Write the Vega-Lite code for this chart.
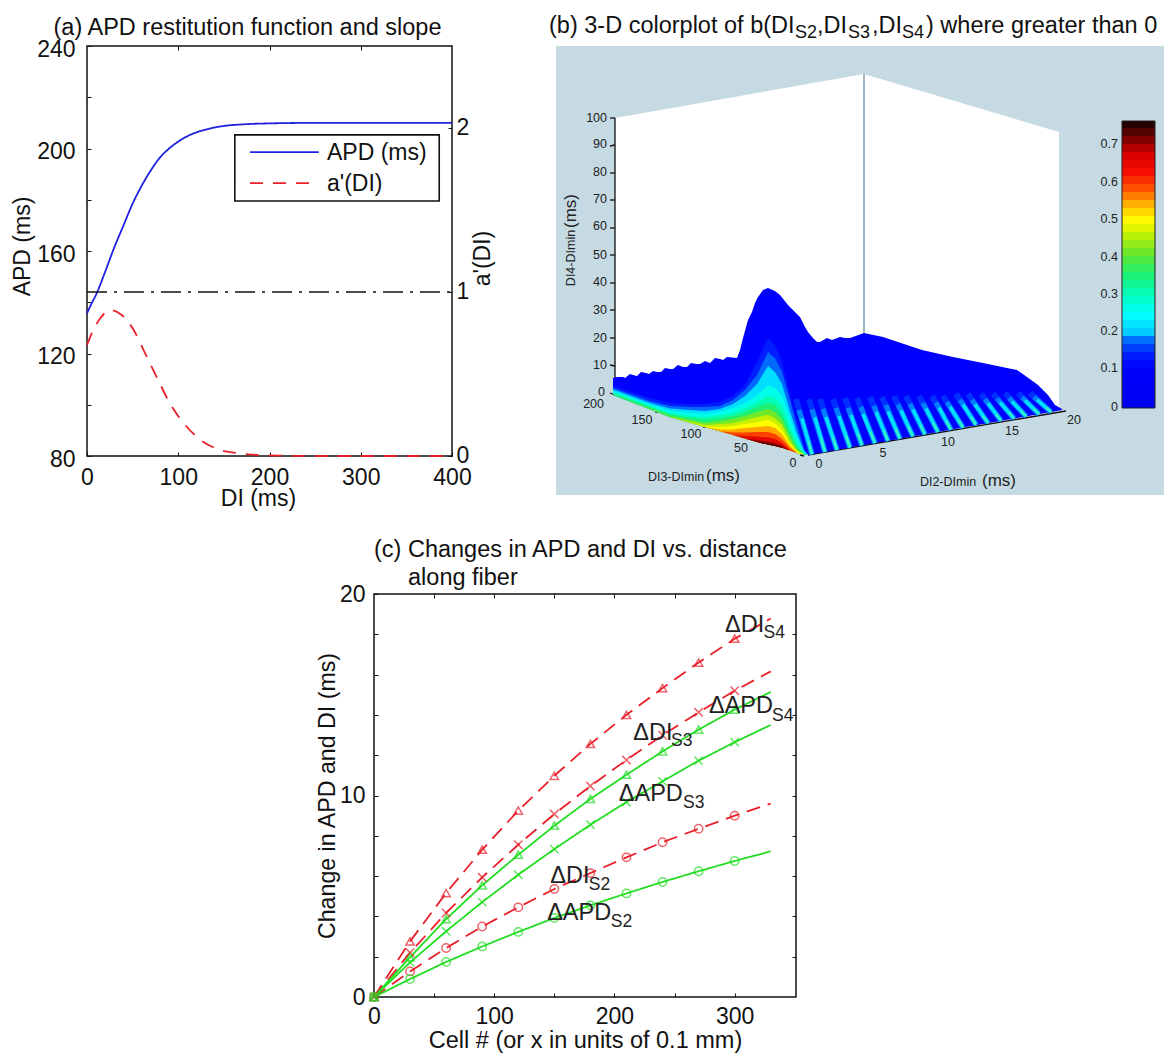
{
"$schema":"https://vega.github.io/schema/vega-lite/v6.json",
"padding":{"left":10,"top":14,"right":0,"bottom":0},
"background":"white",
"config":{"font":"Liberation Sans","axis":{"grid":false,"domain":false,"labelColor":"#111","titleColor":"#111","titleFontWeight":"normal","tickColor":"#111","labelFontSize":23,"titleFontSize":23,"labelOverlap":false,"labelBound":false,"labelFlush":false},"title":{"fontWeight":"normal","color":"#111","fontSize":23.5},"text":{"color":"#222"}},
"spacing":26,"bounds":"full",
"resolve":{"scale":{"color":"independent","strokeDash":"independent","shape":"independent"}},
"vconcat":[
{"hconcat":[
{"width":365,"height":410,"view":{"stroke":"#111","strokeWidth":1.5,"fill":"white"},
"title":{"text":"(a) APD restitution function and slope","anchor":"middle","frame":"group","dx":-22,"offset":-1},
"resolve":{"scale":{"y":"independent"},"axis":{"x":"independent","y":"independent"}},
"layer":[
{"data":{"values":[{"DI":0,"APD":135.7,"series":"APD (ms)"},{"DI":5,"APD":139.5,"series":"APD (ms)"},{"DI":10,"APD":143,"series":"APD (ms)"},{"DI":20,"APD":152,"series":"APD (ms)"},{"DI":30,"APD":161.5,"series":"APD (ms)"},{"DI":40,"APD":170,"series":"APD (ms)"},{"DI":50,"APD":178.5,"series":"APD (ms)"},{"DI":60,"APD":185.5,"series":"APD (ms)"},{"DI":70,"APD":191.5,"series":"APD (ms)"},{"DI":80,"APD":196.5,"series":"APD (ms)"},{"DI":90,"APD":200,"series":"APD (ms)"},{"DI":100,"APD":202.7,"series":"APD (ms)"},{"DI":110,"APD":204.8,"series":"APD (ms)"},{"DI":120,"APD":206.3,"series":"APD (ms)"},{"DI":130,"APD":207.4,"series":"APD (ms)"},{"DI":140,"APD":208.2,"series":"APD (ms)"},{"DI":150,"APD":208.8,"series":"APD (ms)"},{"DI":170,"APD":209.4,"series":"APD (ms)"},{"DI":200,"APD":209.8,"series":"APD (ms)"},{"DI":250,"APD":210,"series":"APD (ms)"},{"DI":300,"APD":210,"series":"APD (ms)"},{"DI":400,"APD":210,"series":"APD (ms)"}]},
"mark":{"type":"line","interpolate":"monotone","strokeWidth":1.8},
"encoding":{"x":{"field":"DI","type":"quantitative","scale":{"domain":[0,400]},"axis":{"orient":"bottom","values":[0,100,200,300,400],"title":"DI (ms)","tickSize":-4,"labelPadding":14,"titlePadding":-2,"titleX":171}},
"y":{"field":"APD","type":"quantitative","scale":{"domain":[80,240]},"axis":{"orient":"left","values":[80,100,120,140,160,180,200,220,240],"labelExpr":"datum.value%40==0?datum.label:''","title":"APD (ms)","tickSize":-4,"labelPadding":16,"titlePadding":2,"labelOffset":3,"titleY":200}},
"color":{"field":"series","type":"nominal","scale":{"domain":["APD (ms)","a'(DI)"],"range":["#2020e0","#e8202a"]},"legend":null},
"strokeDash":{"field":"series","type":"nominal","scale":{"domain":["APD (ms)","a'(DI)"],"range":[[1,0],[13,10]]},"legend":null}}},
{"data":{"values":[{"DI":0,"slope":0.677,"series":"a'(DI)"},{"DI":7,"slope":0.77,"series":"a'(DI)"},{"DI":14.6,"slope":0.84,"series":"a'(DI)"},{"DI":25.6,"slope":0.89,"series":"a'(DI)"},{"DI":38,"slope":0.86,"series":"a'(DI)"},{"DI":51,"slope":0.77,"series":"a'(DI)"},{"DI":62,"slope":0.646,"series":"a'(DI)"},{"DI":77,"slope":0.474,"series":"a'(DI)"},{"DI":91,"slope":0.32,"series":"a'(DI)"},{"DI":106,"slope":0.2,"series":"a'(DI)"},{"DI":124,"slope":0.1,"series":"a'(DI)"},{"DI":146,"slope":0.037,"series":"a'(DI)"},{"DI":168,"slope":0.016,"series":"a'(DI)"},{"DI":197,"slope":0.004,"series":"a'(DI)"},{"DI":250,"slope":0,"series":"a'(DI)"},{"DI":400,"slope":0,"series":"a'(DI)"}]},
"mark":{"type":"line","interpolate":"monotone","strokeWidth":1.8},
"encoding":{"x":{"field":"DI","type":"quantitative","scale":{"domain":[0,400]},"axis":null},
"y":{"field":"slope","type":"quantitative","scale":{"domain":[0,2.5]},"axis":{"orient":"right","values":[0,1,2],"title":"a'(DI)","titleAngle":270,"tickSize":-4,"labelPadding":8,"titlePadding":26,"titleY":212,"labelOffset":-1}},
"color":{"field":"series","type":"nominal","scale":{"domain":["APD (ms)","a'(DI)"],"range":["#2020e0","#e8202a"]},"legend":null},
"strokeDash":{"field":"series","type":"nominal","scale":{"domain":["APD (ms)","a'(DI)"],"range":[[1,0],[13,10]]},"legend":null}}},
{"data":{"values":[{"DI":0,"slope":1},{"DI":400,"slope":1}]},
"mark":{"type":"line","color":"#111","strokeWidth":1.3,"strokeDash":[20,7,3,7]},
"encoding":{"x":{"field":"DI","type":"quantitative","scale":{"domain":[0,400]},"axis":{"orient":"top","values":[100,200,300],"labels":false,"title":null,"tickSize":-4}},
"y":{"field":"slope","type":"quantitative","scale":{"domain":[0,2.5]},"axis":null}}},
{"data":{"values":[{"DI":162,"DI2":386,"APD":205.3,"APD2":179.5}]},
"mark":{"type":"rect","fill":"white","stroke":"#111","strokeWidth":1.6},
"encoding":{"x":{"field":"DI","type":"quantitative","scale":{"domain":[0,400]},"axis":null},"x2":{"field":"DI2"},"y":{"field":"APD","type":"quantitative","scale":{"domain":[80,240]},"axis":null},"y2":{"field":"APD2"}}},
{"data":{"values":[{"DI":178.6,"APD":198.6,"series":"APD (ms)"},{"DI":254,"APD":198.6,"series":"APD (ms)"},{"DI":178.6,"APD":186.5,"series":"a'(DI)"},{"DI":254,"APD":186.5,"series":"a'(DI)"}]},
"mark":{"type":"line","strokeWidth":1.8},
"encoding":{"x":{"field":"DI","type":"quantitative","scale":{"domain":[0,400]},"axis":null},"y":{"field":"APD","type":"quantitative","scale":{"domain":[80,240]},"axis":null},
"color":{"field":"series","type":"nominal","scale":{"domain":["APD (ms)","a'(DI)"],"range":["#2020e0","#e8202a"]},"legend":null},
"strokeDash":{"field":"series","type":"nominal","scale":{"domain":["APD (ms)","a'(DI)"],"range":[[1,0],[13,10]]},"legend":null}}},
{"data":{"values":[{"t":"APD (ms)","DI":263,"APD":198.4},{"t":"a'(DI)","DI":263,"APD":186.2}]},
"mark":{"type":"text","align":"left","baseline":"middle","fontSize":23,"color":"#111"},
"encoding":{"x":{"field":"DI","type":"quantitative","scale":{"domain":[0,400]},"axis":null},"y":{"field":"APD","type":"quantitative","scale":{"domain":[80,240]},"axis":null},"text":{"field":"t"}}}
]},
{"width":608,"height":449,"view":{"stroke":null,"fill":"#c6dae3"},
"encoding":{"x":{"field":"u","type":"quantitative","scale":{"domain":[556,1164]},"axis":null},"y":{"field":"v","type":"quantitative","scale":{"domain":[46,495],"reverse":true},"axis":null}},
"layer":[
{"data":{"values":[{"u":615,"v":118,"w":393},{"u":864,"v":74,"w":349},{"u":1059,"v":132,"w":408}]},"mark":{"type":"area","orient":"vertical","color":"white"},"encoding":{"y2":{"field":"w"}}},
{"data":{"values":[{"u":864,"v":74,"u2":864,"v2":340}]},"mark":{"type":"rule","color":"#7f9fb0","strokeWidth":1.5},"encoding":{"x2":{"field":"u2"},"y2":{"field":"v2"}}},
{"data":{"values":[{"u":615,"v":118,"u2":615,"v2":380},{"u":808,"v":455,"u2":1066,"v2":411},{"u":610,"v":118,"u2":615,"v2":118},{"u":610,"v":146,"u2":615,"v2":145},{"u":610,"v":173,"u2":615,"v2":173},{"u":610,"v":200,"u2":615,"v2":200},{"u":610,"v":228,"u2":615,"v2":228},{"u":610,"v":255,"u2":615,"v2":255},{"u":610,"v":283,"u2":615,"v2":283},{"u":610,"v":310,"u2":615,"v2":310},{"u":610,"v":338,"u2":615,"v2":338},{"u":610,"v":365,"u2":615,"v2":366},{"u":610,"v":393,"u2":615,"v2":395},{"u":655,"v":412,"u2":659,"v2":412},{"u":703,"v":427,"u2":707,"v2":427},{"u":800,"v":455,"u2":804,"v2":456}]},"mark":{"type":"rule","color":"#111","strokeWidth":1.3},"encoding":{"x2":{"field":"u2"},"y2":{"field":"v2"}}},
{"data":{"values":[{"b":0.1,"u":613,"v":378,"w":395},{"b":0.1,"u":617,"v":377,"w":396.5},{"b":0.1,"u":623,"v":377,"w":398.9},{"b":0.1,"u":625,"v":378,"w":399.6},{"b":0.1,"u":630,"v":374,"w":401.6},{"b":0.1,"u":633,"v":375,"w":402.7},{"b":0.1,"u":637,"v":376,"w":404.2},{"b":0.1,"u":641,"v":372,"w":405.8},{"b":0.1,"u":646,"v":373,"w":407.7},{"b":0.1,"u":649,"v":374,"w":408.9},{"b":0.1,"u":653,"v":371,"w":410.4},{"b":0.1,"u":657,"v":372,"w":412},{"b":0.1,"u":661,"v":372,"w":413.5},{"b":0.1,"u":665,"v":368,"w":415},{"b":0.1,"u":670,"v":369,"w":417},{"b":0.1,"u":673,"v":369,"w":417.9},{"b":0.1,"u":678,"v":365,"w":419.3},{"b":0.1,"u":683,"v":367,"w":420.7},{"b":0.1,"u":687,"v":367,"w":421.9},{"b":0.1,"u":691,"v":363,"w":423},{"b":0.1,"u":696,"v":364,"w":424.4},{"b":0.1,"u":700,"v":364,"w":425.6},{"b":0.1,"u":705,"v":361,"w":427},{"b":0.1,"u":710,"v":363,"w":428.4},{"b":0.1,"u":715,"v":358,"w":429.9},{"b":0.1,"u":720,"v":359,"w":431.3},{"b":0.1,"u":723,"v":360,"w":432.1},{"b":0.1,"u":727,"v":357,"w":433.3},{"b":0.1,"u":737,"v":358,"w":436.2},{"b":0.1,"u":740,"v":350,"w":437.1},{"b":0.1,"u":743,"v":338,"w":437.9},{"b":0.1,"u":748,"v":320,"w":439.4},{"b":0.1,"u":752,"v":312,"w":440.6},{"b":0.1,"u":755,"v":303,"w":441.5},{"b":0.1,"u":758,"v":297,"w":442.3},{"b":0.1,"u":763,"v":290,"w":443.6},{"b":0.1,"u":768,"v":288,"w":444.6},{"b":0.1,"u":775,"v":291,"w":446},{"b":0.1,"u":780,"v":295,"w":447},{"b":0.1,"u":788,"v":305,"w":449.8},{"b":0.1,"u":793,"v":310,"w":451.6},{"b":0.1,"u":800,"v":317,"w":454},{"b":0.1,"u":805,"v":327,"w":454.8},{"b":0.1,"u":808,"v":332,"w":455},{"b":0.1,"u":813,"v":338,"w":454.1},{"b":0.1,"u":817,"v":342,"w":453.4},{"b":0.1,"u":820,"v":342,"w":452.9},{"b":0.1,"u":827,"v":338,"w":451.6},{"b":0.1,"u":832,"v":340,"w":450.8},{"b":0.1,"u":840,"v":337,"w":449.3},{"b":0.1,"u":845,"v":338,"w":448.5},{"b":0.1,"u":850,"v":338,"w":447.6},{"b":0.1,"u":864,"v":333,"w":445.1},{"b":0.1,"u":883,"v":337,"w":441.7},{"b":0.1,"u":922,"v":350,"w":434.8},{"b":0.1,"u":953,"v":357,"w":429.3},{"b":0.1,"u":983,"v":363,"w":424},{"b":0.1,"u":1007,"v":368,"w":419.8},{"b":0.1,"u":1017,"v":370,"w":418},{"b":0.1,"u":1027,"v":377,"w":416.2},{"b":0.1,"u":1038,"v":385,"w":414.3},{"b":0.1,"u":1048,"v":395,"w":412.5},{"b":0.1,"u":1055,"v":405,"w":411.3},{"b":0.1,"u":1062,"v":409,"w":410}]},"mark":{"type":"area","orient":"vertical"},"encoding":{"y2":{"field":"w"},"color":{"field":"b","type":"quantitative","scale":{"interpolate":"rgb","domain":[0,0.11,0.15,0.19,0.2,0.25,0.3,0.36,0.41,0.47,0.5,0.54,0.58,0.63,0.68,0.72,0.77],"range":["#0000f0","#0000ff","#0028ff","#0080ff","#00c8ff","#00ffff","#00ffc0","#20f070","#60e830","#c8f000","#ffff00","#ffc000","#ff6000","#f81000","#d80000","#800000","#100000"]},"legend":null}}},
{"data":{"values":[
{"b":0.14,"u":613,"v":386,"w":395},{"b":0.14,"u":650,"v":398,"w":409.3},{"b":0.14,"u":670,"v":403,"w":417},{"b":0.14,"u":690,"v":404,"w":422.7},{"b":0.14,"u":705,"v":404,"w":427},{"b":0.14,"u":720,"v":402,"w":431.3},{"b":0.14,"u":733,"v":396,"w":435},{"b":0.14,"u":745,"v":385,"w":438.6},{"b":0.14,"u":757,"v":362,"w":442.1},{"b":0.14,"u":768,"v":338,"w":444.6},{"b":0.14,"u":775,"v":345,"w":446},{"b":0.14,"u":782,"v":362,"w":447.7},{"b":0.14,"u":790,"v":395,"w":450.5},{"b":0.14,"u":797,"v":420,"w":452.9},{"b":0.14,"u":804,"v":447,"w":454.5},{"b":0.14,"u":808,"v":455,"w":455},
{"b":0.18,"u":613,"v":388,"w":395},{"b":0.18,"u":650,"v":401,"w":409.3},{"b":0.18,"u":670,"v":406,"w":417},{"b":0.18,"u":690,"v":407,"w":422.7},{"b":0.18,"u":705,"v":407,"w":427},{"b":0.18,"u":720,"v":406,"w":431.3},{"b":0.18,"u":733,"v":400,"w":435},{"b":0.18,"u":745,"v":390,"w":438.6},{"b":0.18,"u":757,"v":375,"w":442.1},{"b":0.18,"u":768,"v":352,"w":444.6},{"b":0.18,"u":775,"v":358,"w":446},{"b":0.18,"u":782,"v":372,"w":447.7},{"b":0.18,"u":790,"v":400,"w":450.5},{"b":0.18,"u":797,"v":426,"w":452.9},{"b":0.18,"u":804,"v":449,"w":454.5},{"b":0.18,"u":808,"v":455,"w":455},
{"b":0.22,"u":613,"v":389.5,"w":395},{"b":0.22,"u":650,"v":403,"w":409.3},{"b":0.22,"u":670,"v":408.5,"w":417},{"b":0.22,"u":690,"v":410,"w":422.7},{"b":0.22,"u":705,"v":411,"w":427},{"b":0.22,"u":720,"v":409,"w":431.3},{"b":0.22,"u":733,"v":404,"w":435},{"b":0.22,"u":745,"v":396,"w":438.6},{"b":0.22,"u":757,"v":384,"w":442.1},{"b":0.22,"u":768,"v":366,"w":444.6},{"b":0.22,"u":775,"v":372,"w":446},{"b":0.22,"u":782,"v":384,"w":447.7},{"b":0.22,"u":790,"v":411,"w":450.5},{"b":0.22,"u":797,"v":433,"w":452.9},{"b":0.22,"u":804,"v":451,"w":454.5},{"b":0.22,"u":808,"v":455,"w":455},
{"b":0.27,"u":613,"v":391,"w":395},{"b":0.27,"u":650,"v":404.5,"w":409.3},{"b":0.27,"u":670,"v":411,"w":417},{"b":0.27,"u":690,"v":413,"w":422.7},{"b":0.27,"u":705,"v":414,"w":427},{"b":0.27,"u":720,"v":412,"w":431.3},{"b":0.27,"u":733,"v":408,"w":435},{"b":0.27,"u":745,"v":403,"w":438.6},{"b":0.27,"u":757,"v":395,"w":442.1},{"b":0.27,"u":768,"v":385,"w":444.6},{"b":0.27,"u":775,"v":388,"w":446},{"b":0.27,"u":782,"v":396,"w":447.7},{"b":0.27,"u":790,"v":418,"w":450.5},{"b":0.27,"u":797,"v":438,"w":452.9},{"b":0.27,"u":804,"v":452,"w":454.5},{"b":0.27,"u":808,"v":455,"w":455},
{"b":0.31,"u":613,"v":392.5,"w":395},{"b":0.31,"u":650,"v":406,"w":409.3},{"b":0.31,"u":670,"v":413,"w":417},{"b":0.31,"u":690,"v":416,"w":422.7},{"b":0.31,"u":705,"v":417,"w":427},{"b":0.31,"u":720,"v":415,"w":431.3},{"b":0.31,"u":733,"v":413,"w":435},{"b":0.31,"u":745,"v":408,"w":438.6},{"b":0.31,"u":757,"v":402,"w":442.1},{"b":0.31,"u":768,"v":396,"w":444.6},{"b":0.31,"u":775,"v":398,"w":446},{"b":0.31,"u":782,"v":406,"w":447.7},{"b":0.31,"u":790,"v":426,"w":450.5},{"b":0.31,"u":797,"v":443,"w":452.9},{"b":0.31,"u":804,"v":453,"w":454.5},{"b":0.31,"u":808,"v":455,"w":455},
{"b":0.36,"u":613,"v":393.5,"w":395},{"b":0.36,"u":650,"v":407,"w":409.3},{"b":0.36,"u":670,"v":414.5,"w":417},{"b":0.36,"u":690,"v":418,"w":422.7},{"b":0.36,"u":705,"v":420,"w":427},{"b":0.36,"u":720,"v":418,"w":431.3},{"b":0.36,"u":733,"v":416,"w":435},{"b":0.36,"u":745,"v":412,"w":438.6},{"b":0.36,"u":757,"v":407,"w":442.1},{"b":0.36,"u":768,"v":403,"w":444.6},{"b":0.36,"u":775,"v":405,"w":446},{"b":0.36,"u":782,"v":414,"w":447.7},{"b":0.36,"u":790,"v":432,"w":450.5},{"b":0.36,"u":797,"v":446,"w":452.9},{"b":0.36,"u":804,"v":454,"w":454.5},{"b":0.36,"u":808,"v":455,"w":455},
{"b":0.42,"u":613,"v":395,"w":395},{"b":0.42,"u":650,"v":408.5,"w":409.3},{"b":0.42,"u":670,"v":416,"w":417},{"b":0.42,"u":690,"v":420,"w":422.7},{"b":0.42,"u":705,"v":423,"w":427},{"b":0.42,"u":720,"v":421,"w":431.3},{"b":0.42,"u":733,"v":419,"w":435},{"b":0.42,"u":745,"v":416,"w":438.6},{"b":0.42,"u":757,"v":412,"w":442.1},{"b":0.42,"u":768,"v":409,"w":444.6},{"b":0.42,"u":775,"v":412,"w":446},{"b":0.42,"u":782,"v":420,"w":447.7},{"b":0.42,"u":790,"v":437,"w":450.5},{"b":0.42,"u":797,"v":449,"w":452.9},{"b":0.42,"u":804,"v":454.3,"w":454.5},{"b":0.42,"u":808,"v":455,"w":455},
{"b":0.47,"u":650,"v":409.3,"w":409.3},{"b":0.47,"u":670,"v":417,"w":417},{"b":0.47,"u":690,"v":421.5,"w":422.7},{"b":0.47,"u":705,"v":425,"w":427},{"b":0.47,"u":720,"v":424,"w":431.3},{"b":0.47,"u":733,"v":423,"w":435},{"b":0.47,"u":745,"v":420,"w":438.6},{"b":0.47,"u":757,"v":417,"w":442.1},{"b":0.47,"u":768,"v":415,"w":444.6},{"b":0.47,"u":775,"v":418,"w":446},{"b":0.47,"u":782,"v":425,"w":447.7},{"b":0.47,"u":790,"v":441,"w":450.5},{"b":0.47,"u":797,"v":450.5,"w":452.9},{"b":0.47,"u":804,"v":454.5,"w":454.5},
{"b":0.5,"u":690,"v":422.7,"w":422.7},{"b":0.5,"u":705,"v":426.5,"w":427},{"b":0.5,"u":720,"v":427,"w":431.3},{"b":0.5,"u":733,"v":426,"w":435},{"b":0.5,"u":745,"v":424,"w":438.6},{"b":0.5,"u":757,"v":422,"w":442.1},{"b":0.5,"u":768,"v":420,"w":444.6},{"b":0.5,"u":775,"v":423,"w":446},{"b":0.5,"u":782,"v":430,"w":447.7},{"b":0.5,"u":790,"v":444,"w":450.5},{"b":0.5,"u":797,"v":451.5,"w":452.9},{"b":0.5,"u":804,"v":454.5,"w":454.5},
{"b":0.55,"u":705,"v":427,"w":427},{"b":0.55,"u":720,"v":429.5,"w":431.3},{"b":0.55,"u":733,"v":429.5,"w":435},{"b":0.55,"u":745,"v":428,"w":438.6},{"b":0.55,"u":757,"v":427,"w":442.1},{"b":0.55,"u":768,"v":426,"w":444.6},{"b":0.55,"u":775,"v":428,"w":446},{"b":0.55,"u":782,"v":434,"w":447.7},{"b":0.55,"u":790,"v":446,"w":450.5},{"b":0.55,"u":797,"v":452.5,"w":452.9},
{"b":0.6,"u":720,"v":431.3,"w":431.3},{"b":0.6,"u":733,"v":432.5,"w":435},{"b":0.6,"u":745,"v":432.5,"w":438.6},{"b":0.6,"u":757,"v":432,"w":442.1},{"b":0.6,"u":768,"v":432,"w":444.6},{"b":0.6,"u":775,"v":434,"w":446},{"b":0.6,"u":782,"v":439,"w":447.7},{"b":0.6,"u":790,"v":448,"w":450.5},{"b":0.6,"u":797,"v":452.9,"w":452.9},
{"b":0.66,"u":733,"v":435,"w":435},{"b":0.66,"u":745,"v":436,"w":438.6},{"b":0.66,"u":757,"v":436.5,"w":442.1},{"b":0.66,"u":768,"v":437.5,"w":444.6},{"b":0.66,"u":775,"v":439,"w":446},{"b":0.66,"u":782,"v":443,"w":447.7},{"b":0.66,"u":790,"v":450.5,"w":450.5},
{"b":0.71,"u":745,"v":438.6,"w":438.6},{"b":0.71,"u":757,"v":440,"w":442.1},{"b":0.71,"u":768,"v":441.5,"w":444.6},{"b":0.71,"u":775,"v":443,"w":446},{"b":0.71,"u":782,"v":445.5,"w":447.7},{"b":0.71,"u":790,"v":450.5,"w":450.5},
{"b":0.75,"u":757,"v":442.1,"w":442.1},{"b":0.75,"u":768,"v":443.5,"w":444.6},{"b":0.75,"u":775,"v":445,"w":446},{"b":0.75,"u":782,"v":447,"w":447.7}
]},"mark":{"type":"area","orient":"vertical"},"encoding":{"y2":{"field":"w"},"detail":{"field":"b"},"order":{"field":"b"},"color":{"field":"b","type":"quantitative","scale":{"interpolate":"rgb","domain":[0,0.11,0.15,0.19,0.2,0.25,0.3,0.36,0.41,0.47,0.5,0.54,0.58,0.63,0.68,0.72,0.77],"range":["#0000f0","#0000ff","#0028ff","#0080ff","#00c8ff","#00ffff","#00ffc0","#20f070","#60e830","#c8f000","#ffff00","#ffc000","#ff6000","#f81000","#d80000","#800000","#100000"]},"legend":null}}},
{"data":{"values":[{"u":812,"v":454.3,"u2":796,"v2":399},{"u":825,"v":452,"u2":809,"v2":399},{"u":837,"v":450,"u2":820,"v2":399},{"u":850,"v":447.6,"u2":833,"v2":399},{"u":862,"v":445.4,"u2":845,"v2":398},{"u":875,"v":443.1,"u2":857,"v2":398},{"u":888,"v":440.8,"u2":870,"v2":397},{"u":900,"v":438.7,"u2":882,"v2":397},{"u":913,"v":436.4,"u2":894,"v2":396},{"u":925,"v":434.3,"u2":906,"v2":396},{"u":938,"v":432,"u2":919,"v2":396},{"u":951,"v":429.7,"u2":932,"v2":396},{"u":963,"v":427.6,"u2":943,"v2":396},{"u":976,"v":424.7,"u2":956,"v2":394},{"u":988,"v":423.1,"u2":968,"v2":394},{"u":1001,"v":420.8,"u2":981,"v2":394},{"u":1014,"v":418.5,"u2":993,"v2":393.5},{"u":1026,"v":416.4,"u2":1005,"v2":393},{"u":1039,"v":414.1,"u2":1018,"v2":393},{"u":1051,"v":412,"u2":1030,"v2":393}]},"mark":{"type":"rule","color":"#0030ff","strokeWidth":6},"encoding":{"x2":{"field":"u2"},"y2":{"field":"v2"}}},
{"data":{"values":[{"u":812,"v":454.3,"u2":799,"v2":410},{"u":825,"v":452,"u2":812,"v2":409.6},{"u":837,"v":450,"u2":823,"v2":409},{"u":850,"v":447.6,"u2":836,"v2":408},{"u":862,"v":445.4,"u2":848,"v2":407.8},{"u":875,"v":443.1,"u2":861,"v2":407},{"u":888,"v":440.8,"u2":874,"v2":405.6},{"u":900,"v":438.7,"u2":886,"v2":405},{"u":913,"v":436.4,"u2":898,"v2":404.4},{"u":925,"v":434.3,"u2":910,"v2":403.9},{"u":938,"v":432,"u2":923,"v2":403},{"u":951,"v":429.7,"u2":936,"v2":402.5},{"u":963,"v":427.6,"u2":947,"v2":402},{"u":976,"v":424.7,"u2":960,"v2":399.9},{"u":988,"v":423.1,"u2":972,"v2":399.9},{"u":1001,"v":420.8,"u2":985,"v2":399.2},{"u":1014,"v":418.5,"u2":997,"v2":398.5},{"u":1026,"v":416.4,"u2":1009,"v2":398},{"u":1039,"v":414.1,"u2":1022,"v2":397.3},{"u":1051,"v":412,"u2":1034,"v2":396.8}]},"mark":{"type":"rule","color":"#0080ff","strokeWidth":5},"encoding":{"x2":{"field":"u2"},"y2":{"field":"v2"}}},
{"data":{"values":[{"u":812,"v":454.3,"u2":802,"v2":418.5},{"u":825,"v":452,"u2":815,"v2":417.5},{"u":837,"v":450,"u2":826,"v2":417},{"u":850,"v":447.6,"u2":839,"v2":416},{"u":862,"v":445.4,"u2":851,"v2":415},{"u":875,"v":443.1,"u2":863,"v2":414},{"u":888,"v":440.8,"u2":876,"v2":412},{"u":900,"v":438.7,"u2":888,"v2":411.5},{"u":913,"v":436.4,"u2":901,"v2":410.5},{"u":925,"v":434.3,"u2":913,"v2":409.5},{"u":938,"v":432,"u2":926,"v2":408.6},{"u":951,"v":429.7,"u2":939,"v2":407.6},{"u":963,"v":427.6,"u2":950,"v2":406.8},{"u":976,"v":424.7,"u2":963,"v2":404.5},{"u":988,"v":423.1,"u2":975,"v2":404.3},{"u":1001,"v":420.8,"u2":988,"v2":403.3},{"u":1014,"v":418.5,"u2":1000,"v2":402.3},{"u":1026,"v":416.4,"u2":1012,"v2":401.4},{"u":1039,"v":414.1,"u2":1025,"v2":400.5},{"u":1051,"v":412,"u2":1037,"v2":399.7}]},"mark":{"type":"rule","color":"#00e0ff","strokeWidth":3.5},"encoding":{"x2":{"field":"u2"},"y2":{"field":"v2"}}},
{"data":{"values":[{"u":812,"v":454.3,"u2":808,"v2":440.5},{"u":825,"v":452,"u2":821,"v2":438.8},{"u":837,"v":450,"u2":833,"v2":437.3},{"u":850,"v":447.6,"u2":846,"v2":435.4},{"u":862,"v":445.4,"u2":858,"v2":433.6},{"u":875,"v":443.1,"u2":870.5,"v2":431.9},{"u":888,"v":440.8,"u2":883.5,"v2":429.8},{"u":900,"v":438.7,"u2":895.5,"v2":428.2},{"u":913,"v":436.4,"u2":908,"v2":426.4},{"u":925,"v":434.3,"u2":920,"v2":424.8},{"u":938,"v":432,"u2":933,"v2":423},{"u":951,"v":429.7,"u2":946,"v2":421.2},{"u":963,"v":427.6,"u2":958,"v2":419.6},{"u":976,"v":424.7,"u2":971,"v2":417},{"u":988,"v":423.1,"u2":983,"v2":415.9},{"u":1001,"v":420.8,"u2":996,"v2":414},{"u":1014,"v":418.5,"u2":1009,"v2":412.3},{"u":1026,"v":416.4,"u2":1021,"v2":410.7},{"u":1039,"v":414.1,"u2":1034,"v2":408.9},{"u":1051,"v":412,"u2":1046,"v2":407.3}]},"mark":{"type":"rule","color":"#40f0c0","strokeWidth":1.8},"encoding":{"x2":{"field":"u2"},"y2":{"field":"v2"}}},
{"data":{"values":[{"u":1122,"u2":1155,"v":408,"v2":400,"b":0.011},{"u":1122,"u2":1155,"v":400,"v2":392,"b":0.032},{"u":1122,"u2":1155,"v":392,"v2":384,"b":0.054},{"u":1122,"u2":1155,"v":384,"v2":376,"b":0.075},{"u":1122,"u2":1155,"v":376,"v2":368,"b":0.097},{"u":1122,"u2":1155,"v":368,"v2":360,"b":0.118},{"u":1122,"u2":1155,"v":360,"v2":352,"b":0.139},{"u":1122,"u2":1155,"v":352,"v2":344,"b":0.161},{"u":1122,"u2":1155,"v":344,"v2":336,"b":0.182},{"u":1122,"u2":1155,"v":336,"v2":328,"b":0.204},{"u":1122,"u2":1155,"v":328,"v2":320,"b":0.225},{"u":1122,"u2":1155,"v":320,"v2":312,"b":0.247},{"u":1122,"u2":1155,"v":312,"v2":304,"b":0.268},{"u":1122,"u2":1155,"v":304,"v2":296,"b":0.29},{"u":1122,"u2":1155,"v":296,"v2":288,"b":0.311},{"u":1122,"u2":1155,"v":288,"v2":280,"b":0.332},{"u":1122,"u2":1155,"v":280,"v2":272,"b":0.354},{"u":1122,"u2":1155,"v":272,"v2":264,"b":0.375},{"u":1122,"u2":1155,"v":264,"v2":256,"b":0.397},{"u":1122,"u2":1155,"v":256,"v2":248,"b":0.418},{"u":1122,"u2":1155,"v":248,"v2":240,"b":0.44},{"u":1122,"u2":1155,"v":240,"v2":232,"b":0.461},{"u":1122,"u2":1155,"v":232,"v2":224,"b":0.483},{"u":1122,"u2":1155,"v":224,"v2":216,"b":0.504},{"u":1122,"u2":1155,"v":216,"v2":208,"b":0.525},{"u":1122,"u2":1155,"v":208,"v2":200,"b":0.547},{"u":1122,"u2":1155,"v":200,"v2":192,"b":0.568},{"u":1122,"u2":1155,"v":192,"v2":184,"b":0.59},{"u":1122,"u2":1155,"v":184,"v2":176,"b":0.611},{"u":1122,"u2":1155,"v":176,"v2":168,"b":0.633},{"u":1122,"u2":1155,"v":168,"v2":160,"b":0.654},{"u":1122,"u2":1155,"v":160,"v2":152,"b":0.676},{"u":1122,"u2":1155,"v":152,"v2":144,"b":0.697},{"u":1122,"u2":1155,"v":144,"v2":136,"b":0.718},{"u":1122,"u2":1155,"v":136,"v2":128,"b":0.74},{"u":1122,"u2":1155,"v":128,"v2":121,"b":0.76}]},"mark":{"type":"rect"},"encoding":{"x2":{"field":"u2"},"y2":{"field":"v2"},"color":{"field":"b","type":"quantitative","scale":{"interpolate":"rgb","domain":[0,0.11,0.15,0.19,0.2,0.25,0.3,0.36,0.41,0.47,0.5,0.54,0.58,0.63,0.68,0.72,0.77],"range":["#0000f0","#0000ff","#0028ff","#0080ff","#00c8ff","#00ffff","#00ffc0","#20f070","#60e830","#c8f000","#ffff00","#ffc000","#ff6000","#f81000","#d80000","#800000","#100000"]},"legend":null}}},
{"data":{"values":[{"u":1122,"v":121,"u2":1122,"v2":408},{"u":1155,"v":121,"u2":1155,"v2":408},{"u":1122,"v":121,"u2":1155,"v2":121},{"u":1122,"v":408,"u2":1155,"v2":408}]},"mark":{"type":"rule","color":"#222","strokeWidth":1},"encoding":{"x2":{"field":"u2"},"y2":{"field":"v2"}}},
{"data":{"values":[{"t":"100","u":607,"v":118},{"t":"90","u":607,"v":144},{"t":"80","u":607,"v":172},{"t":"70","u":607,"v":199},{"t":"60","u":607,"v":226},{"t":"50","u":607,"v":255},{"t":"40","u":607,"v":282},{"t":"30","u":607,"v":310},{"t":"20","u":607,"v":338},{"t":"10","u":607,"v":365},{"t":"0","u":605,"v":392},{"t":"0.7","u":1118,"v":144},{"t":"0.6","u":1118,"v":182},{"t":"0.5","u":1118,"v":219},{"t":"0.4","u":1118,"v":257},{"t":"0.3","u":1118,"v":294},{"t":"0.2","u":1118,"v":331},{"t":"0.1","u":1118,"v":368},{"t":"0","u":1118,"v":407},{"t":"200","u":604,"v":404}]},"mark":{"type":"text","align":"right","baseline":"middle","fontSize":12.5},"encoding":{"text":{"field":"t"}}},
{"data":{"values":[{"t":"150","u":642,"v":420},{"t":"100","u":691,"v":434},{"t":"50","u":741,"v":448},{"t":"0","u":793,"v":463},{"t":"0","u":819,"v":464},{"t":"5","u":883,"v":453},{"t":"10","u":948,"v":442},{"t":"15","u":1012,"v":431},{"t":"20","u":1074,"v":420},{"t":"DI3-DImin","u":676,"v":477},{"t":"DI2-DImin","u":948,"v":482}]},"mark":{"type":"text","align":"center","baseline":"middle","fontSize":12.5},"encoding":{"text":{"field":"t"}}},
{"data":{"values":[{"t":"(ms)","u":723,"v":476},{"t":"(ms)","u":999,"v":481}]},"mark":{"type":"text","align":"center","baseline":"middle","fontSize":17},"encoding":{"text":{"field":"t"}}},
{"data":{"values":[{"t":"DI4-DImin","u":571,"v":258}]},"mark":{"type":"text","angle":270,"align":"center","baseline":"middle","fontSize":12.5},"encoding":{"text":{"field":"t"}}},
{"data":{"values":[{"t":"(ms)","u":571,"v":211}]},"mark":{"type":"text","angle":270,"align":"center","baseline":"middle","fontSize":17},"encoding":{"text":{"field":"t"}}},
{"data":{"values":[{"t":"(b) 3-D colorplot of b(DI","u":549,"v":33},{"t":",DI","u":817,"v":33},{"t":",DI","u":872,"v":33},{"t":") where greater than 0","u":926,"v":33}]},"mark":{"type":"text","align":"left","baseline":"alphabetic","fontSize":23.5,"color":"#111"},"encoding":{"text":{"field":"t"}}},
{"data":{"values":[{"t":"S2","u":795,"v":38},{"t":"S3","u":848,"v":38},{"t":"S4","u":902,"v":38}]},"mark":{"type":"text","align":"left","baseline":"alphabetic","fontSize":18,"color":"#111"},"encoding":{"text":{"field":"t"}}}
]}
],"spacing":104,"bounds":"flush","resolve":{"scale":{"color":"independent","strokeDash":"independent"}}},
{"hconcat":[
{"width":287,"height":5,"view":{"stroke":null},"data":{"values":[{"t":""}]},"mark":{"type":"text"},"encoding":{"text":{"field":"t"}}},
{"width":422,"height":403,"view":{"stroke":"#111","strokeWidth":1.5,"fill":"white"},
"title":{"text":"(c) Changes in APD and DI vs. distance","anchor":"start","frame":"group","offset":4},
"resolve":{"axis":{"x":"independent","y":"independent"}},
"layer":[
{"data":{"values":[{"cell":0,"change":0,"series":"DI S4","kind":"DI","stim":"S4"},{"cell":30,"change":2.76,"series":"DI S4","kind":"DI","stim":"S4"},{"cell":60,"change":5.16,"series":"DI S4","kind":"DI","stim":"S4"},{"cell":90,"change":7.31,"series":"DI S4","kind":"DI","stim":"S4"},{"cell":120,"change":9.25,"series":"DI S4","kind":"DI","stim":"S4"},{"cell":150,"change":10.98,"series":"DI S4","kind":"DI","stim":"S4"},{"cell":180,"change":12.56,"series":"DI S4","kind":"DI","stim":"S4"},{"cell":210,"change":14.0,"series":"DI S4","kind":"DI","stim":"S4"},{"cell":240,"change":15.33,"series":"DI S4","kind":"DI","stim":"S4"},{"cell":270,"change":16.6,"series":"DI S4","kind":"DI","stim":"S4"},{"cell":300,"change":17.78,"series":"DI S4","kind":"DI","stim":"S4"},{"cell":330,"change":18.78,"series":"DI S4","kind":"DI","stim":"S4"},
{"cell":0,"change":0,"series":"DI S3","kind":"DI","stim":"S3"},{"cell":30,"change":2.2,"series":"DI S3","kind":"DI","stim":"S3"},{"cell":60,"change":4.17,"series":"DI S3","kind":"DI","stim":"S3"},{"cell":90,"change":5.94,"series":"DI S3","kind":"DI","stim":"S3"},{"cell":120,"change":7.56,"series":"DI S3","kind":"DI","stim":"S3"},{"cell":150,"change":9.08,"series":"DI S3","kind":"DI","stim":"S3"},{"cell":180,"change":10.47,"series":"DI S3","kind":"DI","stim":"S3"},{"cell":210,"change":11.76,"series":"DI S3","kind":"DI","stim":"S3"},{"cell":240,"change":12.99,"series":"DI S3","kind":"DI","stim":"S3"},{"cell":270,"change":14.13,"series":"DI S3","kind":"DI","stim":"S3"},{"cell":300,"change":15.2,"series":"DI S3","kind":"DI","stim":"S3"},{"cell":330,"change":16.16,"series":"DI S3","kind":"DI","stim":"S3"},
{"cell":0,"change":0,"series":"DI S2","kind":"DI","stim":"S2"},{"cell":30,"change":1.27,"series":"DI S2","kind":"DI","stim":"S2"},{"cell":60,"change":2.43,"series":"DI S2","kind":"DI","stim":"S2"},{"cell":90,"change":3.5,"series":"DI S2","kind":"DI","stim":"S2"},{"cell":120,"change":4.45,"series":"DI S2","kind":"DI","stim":"S2"},{"cell":150,"change":5.36,"series":"DI S2","kind":"DI","stim":"S2"},{"cell":180,"change":6.15,"series":"DI S2","kind":"DI","stim":"S2"},{"cell":210,"change":6.93,"series":"DI S2","kind":"DI","stim":"S2"},{"cell":240,"change":7.68,"series":"DI S2","kind":"DI","stim":"S2"},{"cell":270,"change":8.35,"series":"DI S2","kind":"DI","stim":"S2"},{"cell":300,"change":9.0,"series":"DI S2","kind":"DI","stim":"S2"},{"cell":330,"change":9.6,"series":"DI S2","kind":"DI","stim":"S2"},
{"cell":0,"change":0,"series":"APD S4","kind":"APD","stim":"S4"},{"cell":30,"change":1.97,"series":"APD S4","kind":"APD","stim":"S4"},{"cell":60,"change":3.87,"series":"APD S4","kind":"APD","stim":"S4"},{"cell":90,"change":5.54,"series":"APD S4","kind":"APD","stim":"S4"},{"cell":120,"change":7.06,"series":"APD S4","kind":"APD","stim":"S4"},{"cell":150,"change":8.5,"series":"APD S4","kind":"APD","stim":"S4"},{"cell":180,"change":9.83,"series":"APD S4","kind":"APD","stim":"S4"},{"cell":210,"change":11.03,"series":"APD S4","kind":"APD","stim":"S4"},{"cell":240,"change":12.19,"series":"APD S4","kind":"APD","stim":"S4"},{"cell":270,"change":13.27,"series":"APD S4","kind":"APD","stim":"S4"},{"cell":300,"change":14.26,"series":"APD S4","kind":"APD","stim":"S4"},{"cell":330,"change":15.14,"series":"APD S4","kind":"APD","stim":"S4"},
{"cell":0,"change":0,"series":"APD S3","kind":"APD","stim":"S3"},{"cell":30,"change":1.72,"series":"APD S3","kind":"APD","stim":"S3"},{"cell":60,"change":3.26,"series":"APD S3","kind":"APD","stim":"S3"},{"cell":90,"change":4.71,"series":"APD S3","kind":"APD","stim":"S3"},{"cell":120,"change":6.07,"series":"APD S3","kind":"APD","stim":"S3"},{"cell":150,"change":7.34,"series":"APD S3","kind":"APD","stim":"S3"},{"cell":180,"change":8.55,"series":"APD S3","kind":"APD","stim":"S3"},{"cell":210,"change":9.68,"series":"APD S3","kind":"APD","stim":"S3"},{"cell":240,"change":10.7,"series":"APD S3","kind":"APD","stim":"S3"},{"cell":270,"change":11.73,"series":"APD S3","kind":"APD","stim":"S3"},{"cell":300,"change":12.65,"series":"APD S3","kind":"APD","stim":"S3"},{"cell":330,"change":13.5,"series":"APD S3","kind":"APD","stim":"S3"},
{"cell":0,"change":0,"series":"APD S2","kind":"APD","stim":"S2"},{"cell":30,"change":0.89,"series":"APD S2","kind":"APD","stim":"S2"},{"cell":60,"change":1.74,"series":"APD S2","kind":"APD","stim":"S2"},{"cell":90,"change":2.51,"series":"APD S2","kind":"APD","stim":"S2"},{"cell":120,"change":3.23,"series":"APD S2","kind":"APD","stim":"S2"},{"cell":150,"change":3.92,"series":"APD S2","kind":"APD","stim":"S2"},{"cell":180,"change":4.55,"series":"APD S2","kind":"APD","stim":"S2"},{"cell":210,"change":5.14,"series":"APD S2","kind":"APD","stim":"S2"},{"cell":240,"change":5.71,"series":"APD S2","kind":"APD","stim":"S2"},{"cell":270,"change":6.24,"series":"APD S2","kind":"APD","stim":"S2"},{"cell":300,"change":6.75,"series":"APD S2","kind":"APD","stim":"S2"},{"cell":330,"change":7.23,"series":"APD S2","kind":"APD","stim":"S2"}]},
"layer":[
{"mark":{"type":"line","strokeWidth":1.8},
"encoding":{"x":{"field":"cell","type":"quantitative","scale":{"domain":[0,351],"nice":false},"axis":{"orient":"top","values":[50,100,150,200,250,300],"labels":false,"title":null,"tickSize":-4}},
"y":{"field":"change","type":"quantitative","scale":{"domain":[0,20],"nice":false},"axis":{"orient":"right","values":[2,4,6,8,10,12,14,16,18],"labels":false,"title":null,"tickSize":-4}},
"detail":{"field":"series"},
"color":{"field":"kind","type":"nominal","scale":{"domain":["APD","DI"],"range":["#22dd22","#e8202a"]},"legend":null},
"strokeDash":{"field":"kind","type":"nominal","scale":{"domain":["APD","DI"],"range":[[1,0],[14,8]]},"legend":null}}},
{"transform":[{"filter":"datum.cell<=300"}],
"mark":{"type":"point","filled":false,"strokeWidth":1.5,"size":70},
"encoding":{"x":{"field":"cell","type":"quantitative","scale":{"domain":[0,351],"nice":false},"axis":{"orient":"bottom","values":[0,50,100,150,200,250,300],"labelExpr":"datum.value%100==0?datum.label:''","title":"Cell # (or x in units of 0.1 mm)","tickSize":-4,"labelPadding":12,"titlePadding":0,"titleFontSize":23.5}},
"y":{"field":"change","type":"quantitative","scale":{"domain":[0,20],"nice":false},"axis":{"orient":"left","values":[0,2,4,6,8,10,12,14,16,18,20],"labelExpr":"datum.value%10==0?datum.label:''","title":"Change in APD and DI (ms)","tickSize":-4,"labelPadding":13,"titlePadding":0,"titleFontSize":23.2}},
"color":{"field":"kind","type":"nominal","scale":{"domain":["APD","DI"],"range":["#22dd22","#e8202a"]},"legend":null},
"shape":{"field":"stim","type":"nominal","scale":{"domain":["S2","S3","S4"],"range":["circle","M-1,-1L1,1M-1,1L1,-1","triangle-up"]},"legend":null}}}
]},
{"data":{"values":[{"t":"ΔDI","cell":292,"change":18.1},{"t":"ΔAPD","cell":278.6,"change":14.1},{"t":"ΔDI","cell":215.6,"change":12.77},{"t":"ΔAPD","cell":203.6,"change":9.74},{"t":"ΔDI","cell":146.7,"change":5.66},{"t":"ΔAPD","cell":144,"change":3.84}]},
"mark":{"type":"text","align":"left","baseline":"alphabetic","fontSize":23.5},
"encoding":{"x":{"field":"cell","type":"quantitative","scale":{"domain":[0,351],"nice":false},"axis":null},"y":{"field":"change","type":"quantitative","scale":{"domain":[0,20],"nice":false},"axis":null},"text":{"field":"t"}}},
{"data":{"values":[{"t":"S4","cell":324,"change":17.8},{"t":"S4","cell":331,"change":13.71},{"t":"S3","cell":247,"change":12.44},{"t":"S3","cell":257,"change":9.38},{"t":"S2","cell":178.6,"change":5.33},{"t":"S2","cell":197,"change":3.47}]},
"mark":{"type":"text","align":"left","baseline":"alphabetic","fontSize":17.5},
"encoding":{"x":{"field":"cell","type":"quantitative","scale":{"domain":[0,351],"nice":false},"axis":null},"y":{"field":"change","type":"quantitative","scale":{"domain":[0,20],"nice":false},"axis":null},"text":{"field":"t"}}},
{"data":{"values":[{"t":"along fiber","cell":28.3,"change":20.45}]},
"mark":{"type":"text","align":"left","baseline":"alphabetic","fontSize":23.5,"color":"#111"},
"encoding":{"x":{"field":"cell","type":"quantitative","scale":{"domain":[0,351],"nice":false},"axis":null},"y":{"field":"change","type":"quantitative","scale":{"domain":[0,20],"nice":false},"axis":null},"text":{"field":"t"}}}
]}
],"spacing":0,"bounds":"flush","resolve":{"scale":{"color":"independent","strokeDash":"independent","shape":"independent"}}}
]}
